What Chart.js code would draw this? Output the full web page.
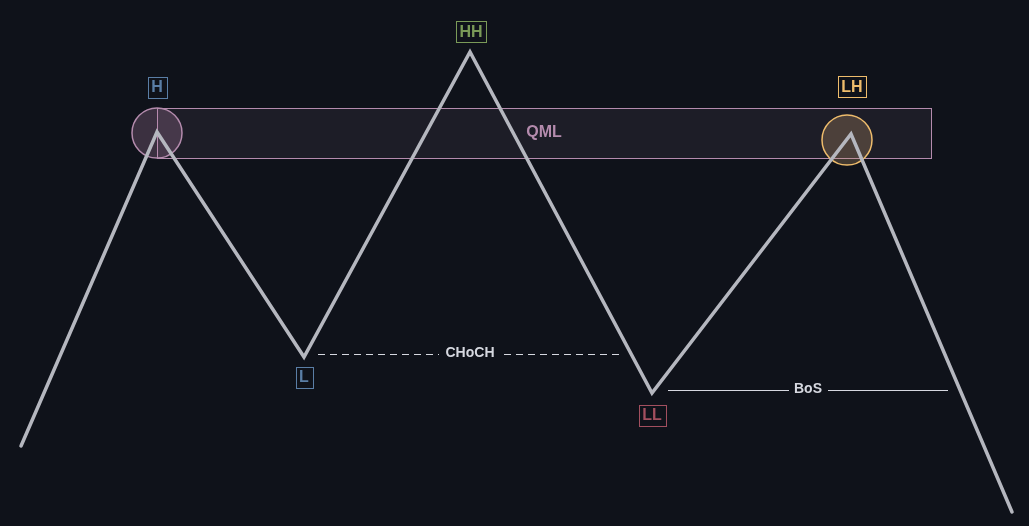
<!DOCTYPE html>
<html>
<head>
<meta charset="utf-8">
<script src="https://cdn.jsdelivr.net/npm/chart.js@4"></script>
<style>
  html, body { margin: 0; padding: 0; background: #0f121a; }
  #wrap { width: 1029px; height: 526px; }
</style>
</head>
<body>
<div id="wrap"><canvas id="smc-chart" width="1029" height="526"></canvas></div>
<script>
// swing points: bar position and price
const swingX = [21, 157, 304, 470, 652, 851, 1012];
const swingPrice = [80, 394, 169, 474, 133, 392, 14];

// structure labels (index into swing points)
const labelText = ['H', 'L', 'HH', 'LL', 'LH'];
const labelIndex = [1, 2, 3, 4, 5];

// QML zone
const qmlX = [157, 931];
const qmlPrice = [418, 368];

// CHoCH / BoS levels
const chochX = [318, 620];
const chochPrice = 172;
const bosX = [668, 948];
const bosPrice = 136;

const labelStyle = {
    H:  { color: '#5a7ea6', dy: -45 },
    L:  { color: '#5a7ea6', dy: 20 },
    HH: { color: '#7a9a58', dy: -20, dx: 1 },
    LL: { color: '#a24f5f', dy: 22 },
    LH: { color: '#eebc6c', dy: -47, dx: 1 }
};

const FONT = '"Liberation Sans", Arial, sans-serif';

const markup = {
    id: 'markup',
    beforeDatasetsDraw(chart) {
        const { ctx, scales: { x, y } } = chart;
        ctx.save();
        // QML zone
        const x0 = x.getPixelForValue(qmlX[0]), x1 = x.getPixelForValue(qmlX[1]);
        const y0 = y.getPixelForValue(qmlPrice[0]), y1 = y.getPixelForValue(qmlPrice[1]);
        ctx.fillStyle = 'rgba(180, 140, 175, 0.09)';
        ctx.fillRect(x0, y0, x1 - x0, y1 - y0);
        ctx.strokeStyle = '#b48bad';
        ctx.lineWidth = 1;
        ctx.strokeRect(x0 + 0.5, y0 + 0.5, x1 - x0, y1 - y0);

        // circles on H and LH
        const circ = [
            { i: 1, fill: 'rgba(190, 140, 180, 0.25)', stroke: '#b48bad' },
            { i: 5, fill: 'rgba(205, 160, 110, 0.27)', stroke: '#eebc6c' }
        ];
        circ.forEach(c => {
            const cx = x.getPixelForValue(swingX[c.i]) - (c.i === 5 ? 4 : 0);
            const cy = y.getPixelForValue(swingPrice[c.i]) + (c.i === 5 ? 6 : 1);
            ctx.beginPath();
            ctx.arc(cx, cy, 25, 0, Math.PI * 2);
            ctx.fillStyle = c.fill;
            ctx.fill();
            ctx.lineWidth = 1.5;
            ctx.strokeStyle = c.stroke;
            ctx.stroke();
        });

        ctx.fillStyle = '#b48bad';
        ctx.font = 'bold 16px ' + FONT;
        ctx.textAlign = 'center';
        ctx.textBaseline = 'middle';
        ctx.fillText('QML', (x0 + x1) / 2, (y0 + y1) / 2);
        ctx.restore();
    },
    afterDatasetsDraw(chart) {
        const { ctx, scales: { x, y } } = chart;
        ctx.save();
        ctx.textAlign = 'center';
        ctx.textBaseline = 'middle';

        // CHoCH dashed level
        const cy = Math.round(y.getPixelForValue(chochPrice)) + 0.5;
        const cx0 = x.getPixelForValue(chochX[0]), cx1 = x.getPixelForValue(chochX[1]);
        const cmid = (cx0 + cx1) / 2;
        ctx.strokeStyle = '#d6d8e0';
        ctx.lineWidth = 1;
        ctx.setLineDash([7, 5]);
        ctx.beginPath();
        ctx.moveTo(cx0, cy); ctx.lineTo(cmid - 30, cy);
        ctx.moveTo(cmid + 35, cy); ctx.lineTo(cx1, cy);
        ctx.stroke();
        ctx.setLineDash([]);
        ctx.fillStyle = '#d6d8e0';
        ctx.font = 'bold 14px ' + FONT;
        ctx.fillText('CHoCH', cmid + 1, cy - 1);

        // BoS level
        const by = Math.round(y.getPixelForValue(bosPrice)) + 0.5;
        const bx0 = x.getPixelForValue(bosX[0]), bx1 = x.getPixelForValue(bosX[1]);
        const bmid = (bx0 + bx1) / 2;
        ctx.beginPath();
        ctx.moveTo(bx0, by); ctx.lineTo(bmid - 19, by);
        ctx.moveTo(bmid + 20, by); ctx.lineTo(bx1, by);
        ctx.stroke();
        ctx.fillText('BoS', bmid, by - 1);

        // structure labels
        ctx.font = 'bold 16px ' + FONT;
        labelText.forEach((t, k) => {
            const i = labelIndex[k];
            const s = labelStyle[t];
            const px = x.getPixelForValue(swingX[i]) + (s.dx || 0);
            const py = y.getPixelForValue(swingPrice[i]) + s.dy;
            const w = ctx.measureText(t).width + 7;
            const h = 21;
            ctx.strokeStyle = s.color;
            ctx.lineWidth = 1;
            ctx.strokeRect(Math.round(px - w / 2) + 0.5, Math.round(py - h / 2) + 0.5, Math.round(w), h);
            ctx.fillStyle = s.color;
            ctx.fillText(t, px, py + 1);
        });
        ctx.restore();
    }
};

new Chart(document.getElementById('smc-chart').getContext('2d'), {
    type: 'line',
    data: {
        datasets: [{
            data: swingX.map((v, i) => ({ x: v, y: swingPrice[i] })),
            borderColor: '#b5b7bf',
            borderWidth: 3.5,
            pointRadius: 0,
            tension: 0,
            borderCapStyle: 'round',
            borderJoinStyle: 'miter'
        }]
    },
    options: {
        responsive: false,
        animation: false,
        layout: { padding: 0 },
        plugins: {
            legend: { display: false },
            tooltip: { enabled: false }
        },
        scales: {
            x: { type: 'linear', min: 0, max: 1029, display: false },
            y: { type: 'linear', min: 0, max: 526, display: false }
        }
    },
    plugins: [markup]
});
</script>
</body>
</html>
